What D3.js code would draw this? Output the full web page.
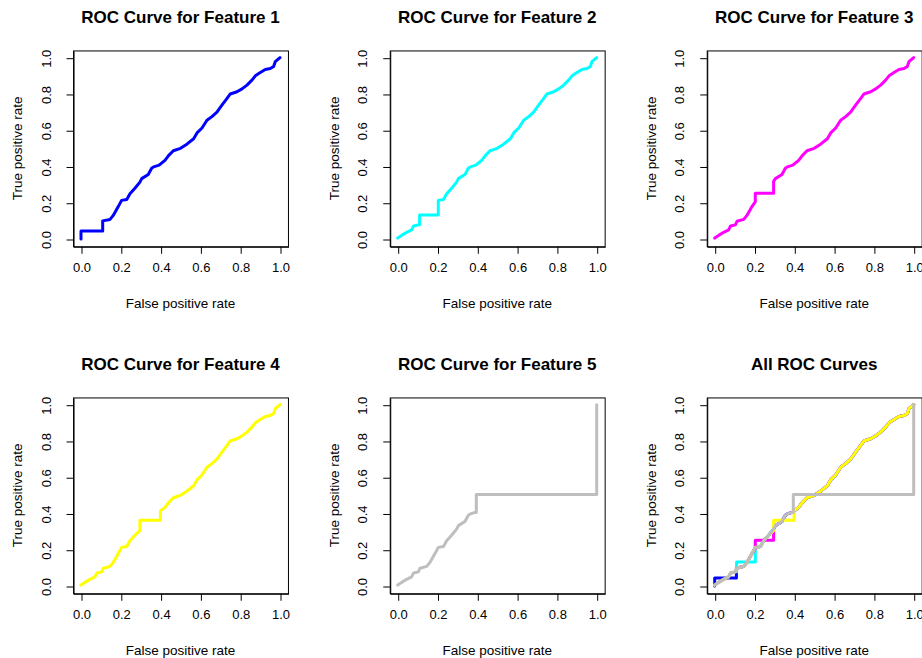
<!DOCTYPE html>
<html>
<head>
<meta charset="utf-8">
<script src="https://cdn.jsdelivr.net/npm/d3@7"></script>
<style>
  body { margin: 0; background: #fff; }
  svg { display: block; font-family: "Liberation Sans", Arial, Helvetica, sans-serif; }
</style>
</head>
<body>
<div class="chart"></div>
<script>
// ROC points: [false positive rate, true positive rate]
const feature1 = [
  [0, 0], [0, 0.044], [0.109, 0.044], [0.109, 0.10], [0.146, 0.108], [0.162, 0.13],
  [0.188, 0.18], [0.204, 0.213], [0.23, 0.218], [0.246, 0.25], [0.271, 0.28],
  [0.296, 0.314], [0.305, 0.333], [0.338, 0.356], [0.355, 0.39], [0.365, 0.398],
  [0.389, 0.406], [0.40, 0.414], [0.422, 0.434], [0.44, 0.46], [0.464, 0.487],
  [0.5, 0.5], [0.532, 0.523], [0.566, 0.553], [0.583, 0.585], [0.608, 0.612],
  [0.633, 0.655], [0.658, 0.675], [0.683, 0.70], [0.709, 0.74], [0.734, 0.776],
  [0.75, 0.80], [0.784, 0.812], [0.809, 0.828], [0.834, 0.849], [0.859, 0.876],
  [0.876, 0.90], [0.901, 0.918], [0.926, 0.935], [0.951, 0.94], [0.968, 0.952],
  [0.976, 0.978], [1, 1]
];
const feature2 = [
  [0, 0.005], [0.02, 0.02], [0.045, 0.037], [0.07, 0.05], [0.08, 0.072], [0.104, 0.078],
  [0.11, 0.078], [0.11, 0.132], [0.204, 0.132], [0.204, 0.213], [0.23, 0.218],
  [0.246, 0.25], [0.271, 0.28], [0.296, 0.314], [0.305, 0.333], [0.338, 0.356],
  [0.355, 0.39], [0.365, 0.398], [0.389, 0.406], [0.40, 0.414], [0.422, 0.434],
  [0.44, 0.46], [0.464, 0.487], [0.5, 0.5], [0.532, 0.523], [0.566, 0.553],
  [0.583, 0.585], [0.608, 0.612], [0.633, 0.655], [0.658, 0.675], [0.683, 0.70],
  [0.709, 0.74], [0.734, 0.776], [0.75, 0.80], [0.784, 0.812], [0.809, 0.828],
  [0.834, 0.849], [0.859, 0.876], [0.876, 0.90], [0.901, 0.918], [0.926, 0.935],
  [0.951, 0.94], [0.968, 0.952], [0.976, 0.978], [1, 1]
];
const feature3 = [
  [0, 0.005], [0.02, 0.02], [0.045, 0.037], [0.07, 0.05], [0.08, 0.072], [0.104, 0.078],
  [0.112, 0.098], [0.146, 0.108], [0.162, 0.13], [0.188, 0.18], [0.204, 0.205],
  [0.204, 0.253], [0.296, 0.253], [0.296, 0.318], [0.305, 0.333], [0.338, 0.356],
  [0.355, 0.39], [0.365, 0.398], [0.389, 0.406], [0.40, 0.414], [0.422, 0.434],
  [0.44, 0.46], [0.464, 0.487], [0.5, 0.5], [0.532, 0.523], [0.566, 0.553],
  [0.583, 0.585], [0.608, 0.612], [0.633, 0.655], [0.658, 0.675], [0.683, 0.70],
  [0.709, 0.74], [0.734, 0.776], [0.75, 0.80], [0.784, 0.812], [0.809, 0.828],
  [0.834, 0.849], [0.859, 0.876], [0.876, 0.90], [0.901, 0.918], [0.926, 0.935],
  [0.951, 0.94], [0.968, 0.952], [0.976, 0.978], [1, 1]
];
const feature4 = [
  [0, 0.005], [0.02, 0.02], [0.045, 0.037], [0.07, 0.05], [0.08, 0.072], [0.104, 0.078],
  [0.112, 0.098], [0.146, 0.108], [0.162, 0.13], [0.188, 0.18], [0.204, 0.213],
  [0.23, 0.218], [0.246, 0.25], [0.271, 0.28], [0.296, 0.305], [0.296, 0.362],
  [0.399, 0.362], [0.399, 0.414], [0.422, 0.434], [0.44, 0.46], [0.464, 0.487],
  [0.5, 0.5], [0.532, 0.523], [0.566, 0.553], [0.583, 0.585], [0.608, 0.612],
  [0.633, 0.655], [0.658, 0.675], [0.683, 0.70], [0.709, 0.74], [0.734, 0.776],
  [0.75, 0.80], [0.784, 0.812], [0.809, 0.828], [0.834, 0.849], [0.859, 0.876],
  [0.876, 0.90], [0.901, 0.918], [0.926, 0.935], [0.951, 0.94], [0.968, 0.952],
  [0.976, 0.978], [1, 1]
];
const feature5 = [
  [0, 0.005], [0.02, 0.02], [0.045, 0.037], [0.07, 0.05], [0.08, 0.072], [0.104, 0.078],
  [0.112, 0.098], [0.146, 0.108], [0.162, 0.13], [0.188, 0.18], [0.204, 0.213],
  [0.23, 0.218], [0.246, 0.25], [0.271, 0.28], [0.296, 0.314], [0.305, 0.333],
  [0.338, 0.356], [0.355, 0.39], [0.365, 0.398], [0.389, 0.406], [0.395, 0.406],
  [0.395, 0.505], [1, 0.505], [1, 1]
];

const seriesNames = ['Feature 1', 'Feature 2', 'Feature 3', 'Feature 4', 'Feature 5'];
const seriesColors = ['#0000ff', '#00ffff', '#ff00ff', '#ffff00', '#bebebe'];
const tickValues = [0, 0.2, 0.4, 0.6, 0.8, 1.0];
const xLabel = 'False positive rate';
const yLabel = 'True positive rate';

const allSeries = [feature1, feature2, feature3, feature4, feature5];

const W = 922, H = 658;
const unitW = 199, unitH = 181.3;   // pixels for 0..1
const colX = [81, 397.7, 714.7];    // x position of fpr = 0
const rowY = [239, 586];            // y position of tpr = 0

const svg = d3.select('.chart').append('svg')
    .attr('width', W)
    .attr('height', H);

const panels = [];
seriesNames.forEach((name, i) => {
  panels.push({title: 'ROC Curve for ' + name, lines: [i]});
});
panels.push({title: 'All ROC Curves', lines: [0, 1, 2, 3, 4]});

const line = d3.line()
    .x(d => d[0])
    .y(d => d[1]);

const drawPanel = function (p, k) {
  const col = k % 3, row = Math.floor(k / 3);
  const x0 = colX[col], y0 = rowY[row];

  // R style: 4% padding on each side of the data range
  const xScale = d3.scaleLinear()
      .domain([-0.04, 1.04])
      .range([x0 - 0.04 * unitW, x0 + 1.04 * unitW]);
  const yScale = d3.scaleLinear()
      .domain([-0.04, 1.04])
      .range([y0 + 0.04 * unitH, y0 - 1.04 * unitH]);

  const left = xScale(-0.04), right = xScale(1.04);
  const top = yScale(1.04), bottom = yScale(-0.04);
  const g = svg.append('g');

  g.append('text')
      .attr('x', (left + right) / 2)
      .attr('y', top - 27)
      .attr('text-anchor', 'middle')
      .attr('font-weight', 'bold')
      .attr('font-size', 17)
      .text(p.title);

  p.lines.forEach(i => {
    g.append('path')
        .datum(allSeries[i].map(d => [xScale(d[0]), yScale(d[1])]))
        .attr('d', line)
        .attr('fill', 'none')
        .attr('stroke', seriesColors[i])
        .attr('stroke-width', 3)
        .attr('stroke-linejoin', 'round')
        .attr('stroke-linecap', 'round');
  });

  g.append('rect')
      .attr('x', left + 0.5)
      .attr('y', top + 0.5)
      .attr('width', right - left)
      .attr('height', bottom - top)
      .attr('fill', 'none')
      .attr('stroke', '#000')
      .attr('stroke-width', 1);

  const xAxis = g.append('g')
      .attr('transform', `translate(0.5,${bottom + 0.5})`)
      .call(d3.axisBottom(xScale).tickValues(tickValues).tickFormat(d3.format('.1f'))
        .tickSizeInner(7).tickSizeOuter(0).tickPadding(9));
  xAxis.selectAll('text').attr('font-size', 13).attr('fill', '#000');

  const yAxis = g.append('g')
      .attr('transform', `translate(${left + 0.5},0.5)`)
      .call(d3.axisLeft(yScale).tickValues(tickValues).tickFormat(d3.format('.1f'))
        .tickSizeInner(7).tickSizeOuter(0));
  yAxis.selectAll('.tick text')
      .attr('font-size', 13)
      .attr('fill', '#000')
      .attr('x', null)
      .attr('dy', null)
      .attr('text-anchor', 'middle')
      .attr('transform', 'translate(-23,0) rotate(-90)');
  g.selectAll('.domain').attr('stroke', '#000');
  g.selectAll('.tick line').attr('stroke', '#000');
  g.selectAll('.tick text').attr('font-family', '"Liberation Sans", Arial, sans-serif');

  g.append('text')
      .attr('x', (left + right) / 2)
      .attr('y', bottom + 62)
      .attr('text-anchor', 'middle')
      .attr('font-size', 13.5)
      .text(xLabel);

  g.append('text')
      .attr('transform', `translate(${left - 51},${(top + bottom) / 2}) rotate(-90)`)
      .attr('text-anchor', 'middle')
      .attr('font-size', 13.5)
      .text(yLabel);
};

panels.forEach(drawPanel);
</script>
</body>
</html>
